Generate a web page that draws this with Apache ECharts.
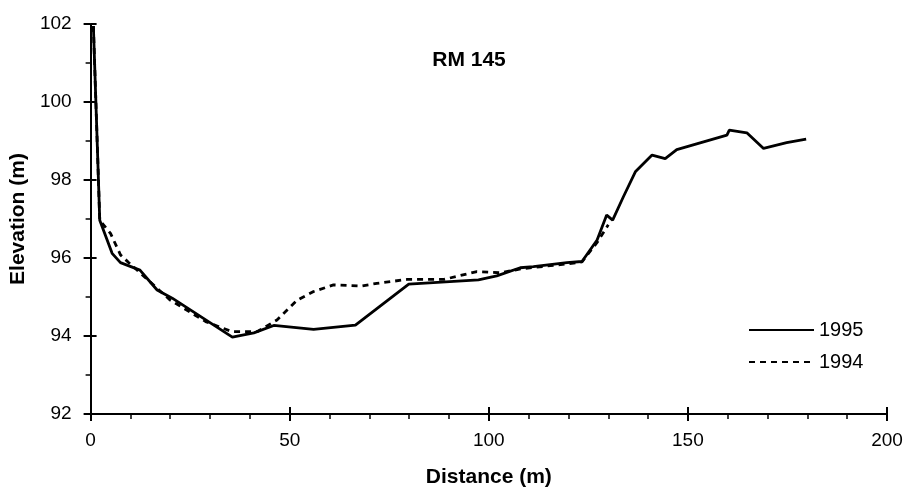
<!DOCTYPE html>
<html>
<head>
<meta charset="utf-8">
<script src="https://cdn.jsdelivr.net/npm/echarts@6/dist/echarts.min.js"></script>
<style>html,body{margin:0;padding:0;background:#fff;}#c{width:912px;height:493px;}</style>
</head>
<body>
<div id="c"></div>
<script>
const seriesNames = ['1995', '1994'];
const dist1995 = [0.7, 2.3, 5.4, 7.5, 12.4, 16.7, 20.5, 35.6, 41, 46, 56, 66.5, 79.9, 97.4, 102, 107.9, 111.2, 119.6, 123.4, 127.2, 129.6, 131.1, 133.8, 136.8, 141, 144.3, 147.2, 159.8, 160.4, 164.8, 169, 174.8, 179.7];
const elev1995 = [101.95, 96.97, 96.12, 95.88, 95.69, 95.18, 94.97, 93.97, 94.08, 94.27, 94.17, 94.28, 95.33, 95.44, 95.54, 95.75, 95.78, 95.88, 95.91, 96.46, 97.1, 96.97, 97.57, 98.21, 98.64, 98.55, 98.78, 99.15, 99.28, 99.21, 98.81, 98.96, 99.05];
const dist1994 = [0.7, 2.3, 5.0, 7.5, 9.6, 20, 28.9, 35.5, 41.8, 46.8, 51.9, 56, 61, 67.8, 71.9, 79.5, 88.7, 97, 102.9, 108, 119.6, 123.4, 127.2, 130];
const elev1994 = [101.95, 96.97, 96.63, 96.08, 95.88, 94.92, 94.37, 94.11, 94.11, 94.41, 94.92, 95.14, 95.31, 95.28, 95.35, 95.45, 95.45, 95.65, 95.62, 95.72, 95.85, 95.9, 96.4, 96.85];
const xTicks = [0, 50, 100, 150, 200];
const yTicks = [92, 94, 96, 98, 100, 102];
const titleText = 'RM 145';
const xName = 'Distance (m)';
const yName = 'Elevation (m)';

const pair = (xs, ys) => xs.map((x, i) => [x, ys[i]]);
const font = 'Liberation Sans, Arial, Helvetica, sans-serif';
const chart = echarts.init(document.getElementById('c'));
const baseX = {
  type: 'value', min: xTicks[0], max: xTicks[xTicks.length - 1], interval: 50,
  splitLine: { show: false }
};
const baseY = {
  type: 'value', min: yTicks[0], max: yTicks[yTicks.length - 1], interval: 2,
  splitLine: { show: false }
};
chart.setOption({
  animation: false,
  backgroundColor: '#fff',
  title: {
    text: titleText, left: 464, top: 45, textAlign: 'center',
    textStyle: { fontFamily: font, fontSize: 21, fontWeight: 'bold', color: '#000' }
  },
  legend: {
    data: seriesNames, orient: 'vertical', left: 743, top: 315,
    itemWidth: 65, itemHeight: 20, itemGap: 12,
    itemStyle: { opacity: 0 },
    textStyle: { fontFamily: font, fontSize: 20, color: '#000' }
  },
  grid: { left: 90, right: 25, top: 24, bottom: 79 },
  xAxis: [
    Object.assign({}, baseX, {
      name: xName, nameLocation: 'middle', nameGap: 53,
      nameTextStyle: { fontFamily: font, fontSize: 21, fontWeight: 'bold', color: '#000' },
      axisLine: { lineStyle: { color: '#000', width: 2 } },
      axisTick: { length: 7, lineStyle: { color: '#000', width: 2 } },
      minorTick: { show: true, splitNumber: 5, length: 5, lineStyle: { color: '#000', width: 1.5 } },
      axisLabel: { fontFamily: font, fontSize: 19, color: '#000', margin: 17 }
    }),
    Object.assign({}, baseX, {
      position: 'bottom',
      axisLine: { show: false },
      axisTick: { inside: true, length: 7, lineStyle: { color: '#000', width: 2 } },
      axisLabel: { show: false }
    })
  ],
  yAxis: [
    Object.assign({}, baseY, {
      name: yName, nameLocation: 'middle', nameGap: 56,
      nameTextStyle: { fontFamily: font, fontSize: 21, fontWeight: 'bold', color: '#000' },
      axisLine: { lineStyle: { color: '#000', width: 2 } },
      axisTick: { length: 7, lineStyle: { color: '#000', width: 2 } },
      minorTick: { show: true, splitNumber: 2, length: 5, lineStyle: { color: '#000', width: 1.5 } },
      axisLabel: { fontFamily: font, fontSize: 19, color: '#000', margin: 19 }
    }),
    Object.assign({}, baseY, {
      position: 'left',
      axisLine: { show: false },
      axisTick: { inside: true, length: 6, lineStyle: { color: '#000', width: 2 } },
      axisLabel: { show: false }
    })
  ],
  series: [
    {
      name: seriesNames[0], type: 'line', symbol: 'none', z: 3,
      data: pair(dist1995, elev1995),
      lineStyle: { color: '#000', width: 2.8, type: 'solid' },
      itemStyle: { color: '#000' }
    },
    {
      name: seriesNames[1], type: 'line', symbol: 'none', z: 2,
      data: pair(dist1994, elev1994),
      lineStyle: { color: '#000', width: 2.8, type: [6, 5] },
      itemStyle: { color: '#000' }
    }
  ]
});
</script>
</body>
</html>
